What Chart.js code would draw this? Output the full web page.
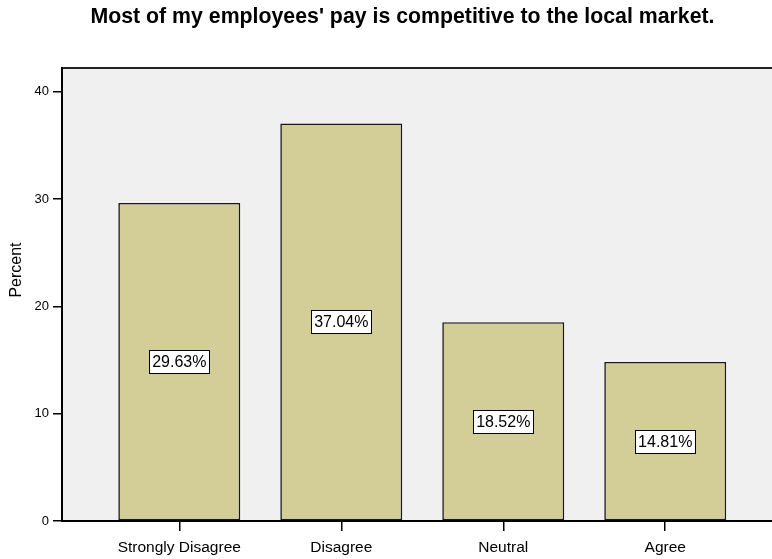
<!DOCTYPE html>
<html>
<head>
<meta charset="utf-8">
<script src="https://cdn.jsdelivr.net/npm/chart.js@4/dist/chart.umd.min.js"></script>
<style>
    html, body { margin: 0; padding: 0; background: #fff; }
    #wrap { width: 772px; height: 559px; position: relative; }
</style>
</head>
<body>
<div id="wrap"><canvas id="grafico"></canvas></div>
<script>
// ─── Datos de la encuesta ─────────────────────────────────────────────────────
const TITULO      = "Most of my employees' pay is competitive to the local market.";
const TITULO_Y    = 'Percent';
const categorias  = ['Strongly Disagree', 'Disagree', 'Neutral', 'Agree'];
const porcentajes = [29.63, 37.04, 18.52, 14.81];
const posiciones  = [0, 1, 2, 3];        // una barra por categoría en el eje lineal
const ticksY      = [0, 10, 20, 30, 40];

const FUENTE = '"Liberation Sans", Arial, sans-serif';
Chart.defaults.font.family = FUENTE;
Chart.defaults.color = '#000';

// Fondo gris del área de trazado + línea superior
const fondoArea = {
    id: 'fondoArea',
    beforeDraw(chart) {
        const { ctx, chartArea: a } = chart;
        ctx.save();
        ctx.fillStyle = '#f0f0f0';
        ctx.fillRect(a.left, a.top, a.right - a.left, a.bottom - a.top);
        ctx.strokeStyle = '#222';
        ctx.lineWidth = 2;
        ctx.beginPath();
        ctx.moveTo(a.left, a.top);
        ctx.lineTo(a.right, a.top);
        ctx.stroke();
        ctx.restore();
    }
};

// Título en negrita arriba y rótulo vertical del eje Y
const titulos = {
    id: 'titulos',
    afterDraw(chart) {
        const { ctx } = chart;
        ctx.save();
        ctx.fillStyle = '#000';
        ctx.textAlign = 'center';
        ctx.textBaseline = 'alphabetic';
        ctx.font = `bold 21.3px ${FUENTE}`;
        ctx.fillText(TITULO, 402.5, 22.5);

        ctx.translate(21, 270);
        ctx.rotate(-Math.PI / 2);
        ctx.font = `16px ${FUENTE}`;
        ctx.fillText(TITULO_Y, 0, 0);
        ctx.restore();
    }
};

// Etiquetas de porcentaje en cajitas blancas a media altura de cada barra
const etiquetas = {
    id: 'etiquetas',
    afterDatasetsDraw(chart) {
        const { ctx } = chart;
        const meta = chart.getDatasetMeta(0);
        ctx.save();
        ctx.font = `16px ${FUENTE}`;
        ctx.textAlign = 'center';
        ctx.textBaseline = 'middle';
        meta.data.forEach((bar, i) => {
            const texto = porcentajes[i].toFixed(2) + '%';
            const cy = (bar.y + bar.base) / 2;
            const w  = Math.round(ctx.measureText(texto).width + 6);
            const h  = 23;
            const x0 = Math.round(bar.x - w / 2) + 0.5;
            const y0 = Math.round(cy - h / 2) + 0.5;
            ctx.fillStyle = '#fff';
            ctx.fillRect(x0, y0, w, h);
            ctx.strokeStyle = '#000';
            ctx.lineWidth = 1;
            ctx.strokeRect(x0, y0, w, h);
            ctx.fillStyle = '#000';
            ctx.fillText(texto, bar.x, cy + 1);
        });
        ctx.restore();
    }
};

// ─── Gráfico ──────────────────────────────────────────────────────────────────
new Chart(document.getElementById('grafico'), {
    type: 'bar',
    data: {
        datasets: [{
            data: posiciones.map((x, i) => ({ x, y: porcentajes[i] })),
            backgroundColor: '#d3ce98',
            borderColor: '#1a1a1a',
            borderWidth: 1.6,
            borderSkipped: false,
            barPercentage: 0.753,
            categoryPercentage: 1
        }]
    },
    options: {
        responsive: true,
        maintainAspectRatio: false,
        animation: false,
        layout: { padding: { top: 68, left: 0, right: 0, bottom: 0 } },
        plugins: {
            legend: { display: false },
            tooltip: { enabled: false }
        },
        scales: {
            x: {
                type: 'linear',
                offset: false,
                min: -0.724,
                max: 3.659,
                afterBuildTicks: s => { s.ticks = posiciones.map(v => ({ value: v })); },
                afterFit: s => { s.height = 38; },
                ticks: {
                    callback: v => categorias[v],
                    font: { size: 15.5 },
                    color: '#000',
                    padding: 7,
                    maxRotation: 0,
                    autoSkip: false
                },
                grid: { offset: false, drawOnChartArea: false, tickLength: 10, color: '#000', lineWidth: 1.5 },
                border: { color: '#000', width: 2 }
            },
            y: {
                min: 0,
                max: 42.2,
                afterBuildTicks: s => { s.ticks = ticksY.map(v => ({ value: v })); },
                afterFit: s => { s.width = 62; },
                ticks: { font: { size: 13 }, color: '#000', padding: 4 },
                grid: { drawOnChartArea: false, tickLength: 9, color: '#000', lineWidth: 1.5 },
                border: { color: '#000', width: 2 }
            }
        }
    },
    plugins: [fondoArea, titulos, etiquetas]
});
</script>
</body>
</html>
